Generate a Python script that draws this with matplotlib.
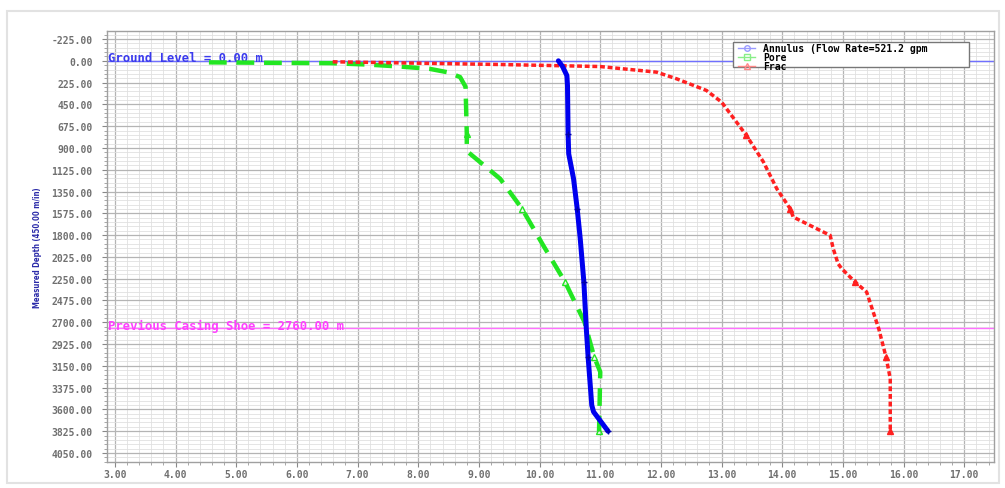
import numpy as np
import matplotlib
matplotlib.use("Agg")
import matplotlib.pyplot as plt
from matplotlib.lines import Line2D
from matplotlib.patches import Rectangle
from matplotlib.ticker import MultipleLocator, FixedLocator, FormatStrFormatter
from matplotlib import font_manager
from matplotlib.font_manager import FontProperties

# ---------------- data ----------------
annulus_depth = [0, 60, 152, 255, 753, 960, 1218, 1527, 1837, 2284, 2765, 3058, 3557, 3625, 3826]
annulus_value = [10.31, 10.38, 10.45, 10.46, 10.47, 10.48, 10.56, 10.62, 10.67, 10.73, 10.77, 10.80, 10.86, 10.89, 11.13]
annulus_marks = [4, 7, 9, 11, 14]

pore_depth = [16, 20, 24, 38, 59, 83, 120, 168, 268, 753, 910, 942, 1218, 1527, 1906, 2284, 2697, 3058, 3213, 3826]
pore_value = [4.55, 5.50, 6.55, 7.15, 7.70, 8.19, 8.50, 8.69, 8.78, 8.80, 8.80, 8.82, 9.35, 9.71, 10.06, 10.42, 10.74, 10.90, 11.00, 10.98]
pore_marks = [9, 13, 15, 17, 19]

frac_depth = [10, 38, 59, 117, 186, 306, 426, 771, 1045, 1321, 1527, 1613, 1803, 1940, 2095, 2146, 2284, 2387, 2766, 3058, 3282, 3826]
frac_value = [6.59, 9.35, 11.00, 11.93, 12.26, 12.75, 13.00, 13.41, 13.69, 13.91, 14.13, 14.18, 14.79, 14.84, 14.92, 14.98, 15.20, 15.39, 15.59, 15.71, 15.78, 15.78]
frac_marks = [7, 10, 16, 19, 21]

ground_level = 0.0
casing_shoe = 2760.0

x_ticks = [3, 4, 5, 6, 7, 8, 9, 10, 11, 12, 13, 14, 15, 16, 17]
y_ticks = [-225, 0, 225, 450, 675, 900, 1125, 1350, 1575, 1800, 2025, 2250,
           2475, 2700, 2925, 3150, 3375, 3600, 3825, 4050]

legend_labels = ["Annulus (Flow Rate=521.2 gpm", "Pore", "Frac"]
y_label = "Measured Depth (450.00 m/in)"

# ---------------- fonts ----------------
mono = "DejaVu Sans Mono"
narrow_prop = None
for f in font_manager.fontManager.ttflist:
    fn = f.fname.lower()
    if ("narrow" in fn or "condensed" in fn) and "bold" in fn and "italic" not in fn and "oblique" not in fn and "mono" not in fn and "serif" not in fn:
        narrow_prop = FontProperties(fname=f.fname, size=5.6)
        break
if narrow_prop is None:
    narrow_prop = FontProperties(family="DejaVu Sans", weight="bold", size=4.8)

W, H = 1005, 489
fig = plt.figure(figsize=(W / 100, H / 100), dpi=100)
fig.patch.set_facecolor("white")

# card border
fig.patches.append(Rectangle((7 / W, 1 - 484 / H), 992 / W, 472 / H, transform=fig.transFigure,
                             fill=False, edgecolor="#e2e2e2", linewidth=1.5, zorder=0))

ax = fig.add_axes([107 / W, 1 - 462.7 / H, (994 - 107) / W, (462.7 - 32) / H])
ax.set_xlim(2.87, 17.49)
ax.set_ylim(4140, -308)

ax.xaxis.set_major_locator(FixedLocator(x_ticks))
ax.xaxis.set_minor_locator(MultipleLocator(0.2))
ax.yaxis.set_major_locator(FixedLocator(y_ticks))
ax.yaxis.set_minor_locator(MultipleLocator(45))
ax.xaxis.set_major_formatter(FormatStrFormatter("%.2f"))
ax.yaxis.set_major_formatter(FormatStrFormatter("%.2f"))

ax.grid(which="major", color="#b4b4b4", linewidth=0.9)
ax.grid(which="minor", color="#e0e0e0", linewidth=0.6)
ax.set_axisbelow(True)
for s in ax.spines.values():
    s.set_color("#a0a0a0")
    s.set_linewidth(1.0)

ax.tick_params(which="major", length=3.5, color="#888888", width=0.8)
ax.tick_params(which="minor", length=2, color="#999999", width=0.6)
ax.tick_params(axis="x", pad=2)
ax.tick_params(axis="y", pad=7)
for lab in ax.get_xticklabels() + ax.get_yticklabels():
    lab.set_fontfamily(mono)
    lab.set_fontsize(7)
    lab.set_fontweight("bold")
    lab.set_color("#707070")

# reference lines
ax.axhline(ground_level, color="#7070ff", linewidth=1.0, zorder=2)
ax.axhline(casing_shoe, color="#ff70ff", linewidth=1.0, zorder=2)
ax.text(2.885, ground_level - 30, f"Ground Level = {ground_level:.2f} m", color="#3a3aee",
        fontsize=8.8, fontfamily=mono, fontweight="bold", va="center", ha="left", zorder=3)
ax.text(2.885, casing_shoe - 28, f"Previous Casing Shoe = {casing_shoe:.2f} m", color="#ff40ff",
        fontsize=8.8, fontfamily=mono, fontweight="bold", va="center", ha="left", zorder=3)

# series
ax.plot(pore_value, pore_depth, color="#22e622", linewidth=3.2, linestyle=(0, (4.0, 2.2)),
        marker="^", markersize=4, markevery=pore_marks, markerfacecolor="none",
        markeredgecolor="#22e622", zorder=4)
ax.plot(frac_value, frac_depth, color="#ff2020", linewidth=2.5, linestyle=(0, (1.4, 0.8)),
        marker="^", markersize=5, markevery=frac_marks, markerfacecolor="#ff2020",
        markeredgecolor="#ff2020", zorder=4)
ax.plot(annulus_value, annulus_depth, color="#0000ee", linewidth=3.6, solid_capstyle="round",
        marker="+", markersize=4, markevery=annulus_marks, markeredgecolor="#0000aa", zorder=5)

# y label
fig.text(38 / W, 1 - 248 / H, y_label, rotation=90, color="#2a2aa8",
         fontproperties=narrow_prop, ha="center", va="center")

# legend box + legend
ax.add_patch(Rectangle((733 / W, 1 - 68 / H), 236 / W, 25 / H, transform=fig.transFigure,
                       facecolor="white", edgecolor="#777777", linewidth=1.0, zorder=9, clip_on=False))
handles = [
    Line2D([], [], color="#9a9aff", marker="o", markersize=4, markerfacecolor="none", linewidth=1.0),
    Line2D([], [], color="#88ee88", marker="s", markersize=4, markerfacecolor="none", linewidth=1.0),
    Line2D([], [], color="#ff8888", marker="^", markersize=4, markerfacecolor="none", linewidth=1.0),
]
leg = ax.legend(handles, legend_labels, loc="upper left", bbox_to_anchor=(737 / W, 1 - 43 / H),
                bbox_transform=fig.transFigure, frameon=False,
                prop={"family": mono, "weight": "bold", "size": 7},
                handlelength=1.8, handletextpad=0.8, labelspacing=-0.08, borderpad=0.1,
                borderaxespad=0)
leg.set_zorder(10)

fig.savefig("out.png", dpi=100, facecolor="white")
